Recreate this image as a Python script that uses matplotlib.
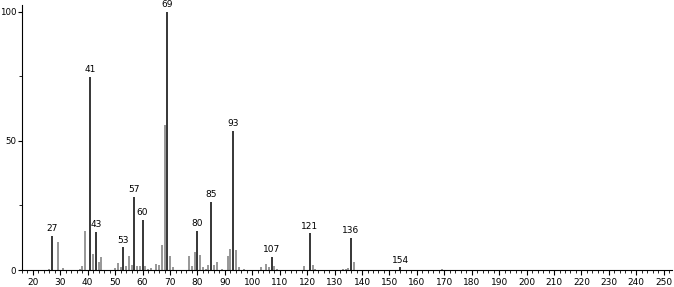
import numpy as np
import matplotlib.pyplot as plt
from matplotlib import ticker

# m/z and relative intensity
mz = [26, 27, 29, 31, 37, 38, 39, 41, 42, 43, 44, 45, 50, 51, 52, 53, 54, 55,
      56, 57, 58, 59, 60, 61, 62, 63, 65, 66, 67, 68, 69, 70, 71, 77, 78, 79,
      80, 81, 82, 83, 84, 85, 86, 87, 89, 91, 92, 93, 94, 95, 97, 103, 105,
      106, 107, 108, 109, 119, 121, 122, 123, 133, 134, 135, 136, 137, 154, 169]
intensity = [0.5, 13.2, 10.8, 0.7, 0.5, 1.5, 15.2, 74.7, 6.2, 14.8, 3.0, 5.0,
             0.8, 2.6, 1.0, 8.8, 1.5, 5.4, 2.0, 28.4, 1.5, 1.5, 19.5, 1.5, 0.5,
             0.8, 2.5, 2.0, 9.8, 56.2, 100.0, 5.4, 1.0, 5.4, 1.5, 6.8, 15.2,
             6.0, 1.0, 0.5, 2.0, 26.5, 2.0, 3.0, 0.5, 5.4, 8.3, 53.9, 7.6, 1.0,
             0.5, 1.0, 2.3, 1.0, 5.0, 1.5, 0.5, 1.5, 14.2, 2.0, 0.5, 0.5, 0.5,
             0.7, 12.3, 3.2, 1.0, 0.5]
labelled = [27, 41, 43, 53, 57, 60, 69, 80, 85, 93, 107, 121, 136, 154]

fig = plt.figure(figsize=(6.74, 2.87), dpi=100)
ax = fig.add_axes([0.0325, 0.059, 0.9645, 0.925])

mz_arr = np.array(mz)
inten = np.array(intensity)
is_lab = np.isin(mz_arr, labelled)

ax.vlines(mz_arr[~is_lab], 0, inten[~is_lab], color="#7a7a7a", linewidth=1.1)
ax.vlines(mz_arr[is_lab], 0, inten[is_lab], color="black", linewidth=1.1)

for m, h in zip(mz_arr[is_lab], inten[is_lab]):
    ax.annotate(str(m), (m, h), xytext=(0, 2), textcoords="offset points",
                ha="center", va="bottom", fontsize=6.5)

ax.set_xlim(16, 253)
ax.set_ylim(0, 102.7)
ax.set_xticks(np.arange(20, 251, 10))
ax.xaxis.set_minor_locator(ticker.MultipleLocator(2))
ax.yaxis.set_major_locator(ticker.FixedLocator([0, 50, 100]))
ax.yaxis.set_minor_locator(ticker.FixedLocator([25, 75]))
ax.tick_params(axis="x", which="major", labelsize=6.5, length=3.5, width=0.8, pad=2)
ax.tick_params(axis="y", which="major", labelsize=6.2, length=3, width=0.8, pad=1)
ax.tick_params(axis="both", which="minor", length=2, width=0.6)

for side in ("top", "right"):
    ax.spines[side].set_visible(False)
for side in ("left", "bottom"):
    ax.spines[side].set_linewidth(0.8)

fig.savefig("out.png", dpi=100)
